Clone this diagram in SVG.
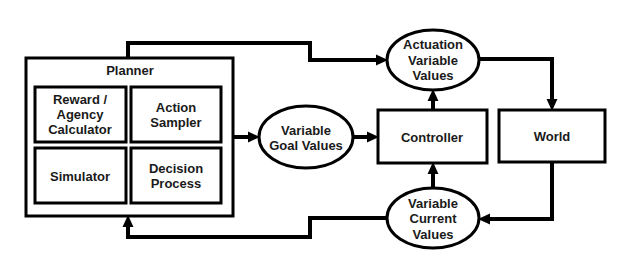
<svg xmlns="http://www.w3.org/2000/svg" width="633" height="276" viewBox="0 0 633 276">
<style>
.box{fill:#fff;stroke:#000;stroke-width:3}
.ell{fill:#fff;stroke:#000;stroke-width:3}
.t{font-family:"Liberation Sans",Arial,sans-serif;font-weight:bold;font-size:13px;fill:#1a1a1a;text-anchor:middle}
.c{fill:none;stroke:#000;stroke-width:4;stroke-linejoin:miter}
</style>
<defs>
<marker id="ah" markerUnits="userSpaceOnUse" markerWidth="12" markerHeight="12" refX="0" refY="5" orient="auto" viewBox="0 0 11 10">
<path d="M0,0 L11,5 L0,10 Z" fill="#000"/>
</marker>
</defs>
<g id="connectors">
<path class="c" d="M128,58 V43 H310 V60 H376" marker-end="url(#ah)"/>
<path class="c" d="M233,137 H248" marker-end="url(#ah)"/>
<path class="c" d="M353,137 H367" marker-end="url(#ah)"/>
<path class="c" d="M433,110 V101" marker-end="url(#ah)"/>
<path class="c" d="M433,189 V174" marker-end="url(#ah)"/>
<path class="c" d="M479,59 H552 V99" marker-end="url(#ah)"/>
<path class="c" d="M552,162 V219 H490" marker-end="url(#ah)"/>
<path class="c" d="M387,218 H310 V237 H128 V227" marker-end="url(#ah)"/>
</g>
<g id="planner">
<rect class="box" x="26" y="58" width="207" height="158"/>
<text class="t" x="130" y="75">Planner</text>
</g>
<g id="reward">
<rect class="box" x="35" y="87" width="91" height="55"/>
<text class="t" x="80" y="104">Reward /</text>
<text class="t" x="80" y="119">Agency</text>
<text class="t" x="80" y="134">Calculator</text>
</g>
<g id="action">
<rect class="box" x="131" y="87" width="90" height="55"/>
<text class="t" x="176" y="112">Action</text>
<text class="t" x="176" y="127">Sampler</text>
</g>
<g id="simulator">
<rect class="box" x="35" y="148" width="91" height="55"/>
<text class="t" x="80" y="181">Simulator</text>
</g>
<g id="decision">
<rect class="box" x="131" y="148" width="90" height="55"/>
<text class="t" x="176" y="173">Decision</text>
<text class="t" x="176" y="188">Process</text>
</g>
<g id="goal">
<ellipse class="ell" cx="306" cy="137" rx="47" ry="31"/>
<text class="t" x="306" y="135">Variable</text>
<text class="t" x="306" y="150">Goal Values</text>
</g>
<g id="actuation">
<ellipse class="ell" cx="433" cy="60" rx="46" ry="30"/>
<text class="t" x="433" y="49">Actuation</text>
<text class="t" x="433" y="65">Variable</text>
<text class="t" x="433" y="80">Values</text>
</g>
<g id="controller">
<rect class="box" x="378" y="110" width="109" height="53"/>
<text class="t" x="432" y="142">Controller</text>
</g>
<g id="world">
<rect class="box" x="499" y="110" width="106" height="52"/>
<text class="t" x="552" y="141">World</text>
</g>
<g id="current">
<ellipse class="ell" cx="433" cy="218" rx="46" ry="30"/>
<text class="t" x="433" y="208">Variable</text>
<text class="t" x="433" y="223">Current</text>
<text class="t" x="433" y="239">Values</text>
</g>
</svg>
